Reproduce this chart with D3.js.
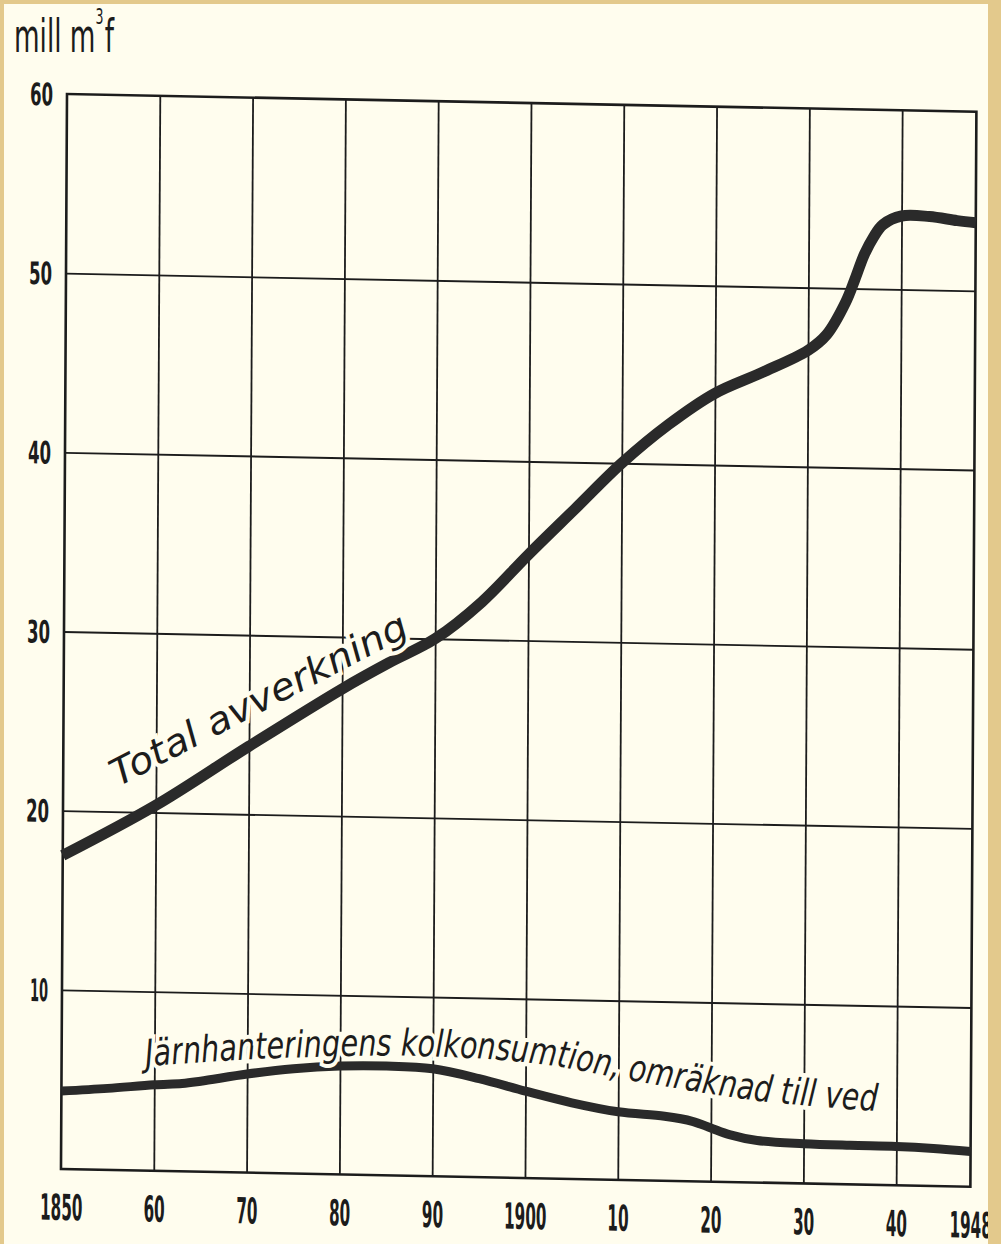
<!DOCTYPE html>
<html>
<head>
<meta charset="utf-8">
<script src="https://cdn.jsdelivr.net/npm/d3@7"></script>
<style>
  body { margin: 0; background: #e3c98c; }
  svg { display: block; }
</style>
</head>
<body>
<div id="chart"></div>
<script>
// decades with a grid line
var gridYears = [1850, 1860, 1870, 1880, 1890, 1900, 1910, 1920, 1930, 1940];

// x tick labels (last one sits at the right edge)
var xTickYears = [1850, 1860, 1870, 1880, 1890, 1900, 1910, 1920, 1930, 1940, 1948];
var xTickLabels = ["1850", "60", "70", "80", "90", "1900", "10", "20", "30", "40", "1948"];

// y ticks
var yTicks = [10, 20, 30, 40, 50, 60];
var yTickLabels = ["10", "20", "30", "40", "50", "60"];

// Total avverkning (mill m3f)
var totalYears = [1850, 1860, 1870, 1880, 1885, 1890, 1895, 1900, 1905, 1910, 1915, 1920, 1925, 1930, 1932, 1934, 1935, 1936, 1937, 1938, 1940, 1943, 1946, 1948];
var totalValues = [17.5, 20.4, 23.8, 27.1, 28.6, 30.0, 32.1, 34.8, 37.4, 40.0, 42.2, 44.0, 45.2, 46.5, 47.4, 49.2, 50.5, 51.9, 52.9, 53.6, 54.1, 54.1, 53.9, 53.8];

// Järnhanteringens kolkonsumtion, omräknad till ved (mill m3f)
var kolYears = [1850, 1855, 1860, 1863, 1865, 1870, 1875, 1880, 1885, 1890, 1895, 1900, 1905, 1910, 1915, 1918, 1920, 1922, 1925, 1930, 1935, 1940, 1944, 1948];
var kolValues = [4.35, 4.55, 4.8, 4.9, 5.05, 5.5, 5.85, 6.05, 6.1, 6.0, 5.5, 4.85, 4.25, 3.8, 3.6, 3.35, 3.0, 2.65, 2.35, 2.22, 2.18, 2.17, 2.1, 1.97];

var width = 1001;
var height = 1244;

// plot box (the scan is slightly skewed, so the plot group gets a matrix)
var plotW = 909.4;
var plotH = 1075;
var skew = "matrix(1,0.0195,-0.0056,1,67,94)";

var ink = "#1c1c1c";
var lineInk = "#2a2a2a";
var paper = "#fffdee";
var border = "#e3c98c";

var svg = d3
  .select("#chart")
  .append("svg")
  .attr("width", width)
  .attr("height", height);

// paper
svg.append("rect")
  .attr("x", 4)
  .attr("y", 4)
  .attr("width", 984)
  .attr("height", 1240)
  .attr("fill", paper);

var x_Scale = d3.scaleLinear().domain([1850, 1948]).range([0, plotW]);
var y_Scale = d3.scaleLinear().domain([0, 60]).range([plotH, 0]);

var plot = svg.append("g").attr("transform", skew);

// vertical grid
plot.append("g")
  .attr("transform", "translate(0," + plotH + ")")
  .call(d3.axisBottom(x_Scale).tickValues(gridYears.slice(1)).tickSize(-plotH).tickFormat(""))
  .call(function(g) { g.select(".domain").remove(); })
  .selectAll("line")
  .attr("stroke", ink)
  .attr("stroke-width", 1.8);

// horizontal grid
plot.append("g")
  .call(d3.axisLeft(y_Scale).tickValues(yTicks.slice(0, -1)).tickSize(-plotW).tickFormat(""))
  .call(function(g) { g.select(".domain").remove(); })
  .selectAll("line")
  .attr("stroke", ink)
  .attr("stroke-width", 1.9);

// frame
plot.append("rect")
  .attr("x", 0)
  .attr("y", 0)
  .attr("width", plotW)
  .attr("height", plotH)
  .attr("fill", "none")
  .attr("stroke", ink)
  .attr("stroke-width", 2.6);

// x labels
var xAxis = plot.append("g")
  .attr("transform", "translate(0," + plotH + ")")
  .call(d3.axisBottom(x_Scale).tickValues(xTickYears).tickSize(0)
    .tickFormat(function(d, i) { return xTickLabels[i]; }))
  .call(function(g) { g.select(".domain").remove(); });

xAxis.selectAll("text")
  .attr("y", 38)
  .attr("dy", "0.36em")
  .attr("fill", ink)
  .style("font-family", "'DejaVu Sans Condensed', 'DejaVu Sans', sans-serif")
  .style("font-weight", "bold")
  .style("font-size", "36px")
  .attr("textLength", function() { return this.textContent.length * 10.6; })
  .attr("lengthAdjust", "spacingAndGlyphs");

// y labels
var yAxis = plot.append("g")
  .call(d3.axisLeft(y_Scale).tickValues(yTicks).tickSize(0)
    .tickFormat(function(d, i) { return yTickLabels[i]; }))
  .call(function(g) { g.select(".domain").remove(); });

yAxis.selectAll("text")
  .attr("x", -14)
  .attr("dy", "0.36em")
  .attr("fill", ink)
  .style("font-family", "'DejaVu Sans Condensed', 'DejaVu Sans', sans-serif")
  .style("font-weight", "bold")
  .style("font-size", "31px")
  .attr("textLength", function() { return this.textContent.charAt(0) === "1" ? 18 : 23; })
  .attr("lengthAdjust", "spacingAndGlyphs");

// data lines
var line = d3.line()
  .x(function(d) { return x_Scale(d[0]); })
  .y(function(d) { return y_Scale(d[1]); })
  .curve(d3.curveCatmullRom.alpha(0.5));

plot.append("path")
  .datum(d3.zip(kolYears, kolValues))
  .attr("d", line)
  .attr("fill", "none")
  .attr("stroke", lineInk)
  .attr("stroke-width", 9);

plot.append("path")
  .datum(d3.zip(totalYears, totalValues))
  .attr("d", line)
  .attr("fill", "none")
  .attr("stroke", lineInk)
  .attr("stroke-width", 11);

// unit label
var unit = svg.append("text")
  .attr("x", 14)
  .attr("y", 52)
  .attr("fill", ink)
  .style("font-family", "'DejaVu Sans Condensed', 'DejaVu Sans', sans-serif")
  .style("font-size", "46px")
  .attr("textLength", 100)
  .attr("lengthAdjust", "spacingAndGlyphs");

unit.append("tspan").text("mill m");
unit.append("tspan").attr("dy", -28).style("font-size", "22px").text("3");
unit.append("tspan").attr("dy", 28).attr("dx", 2).text("f");

// annotations
svg.append("text")
  .attr("transform", "translate(118,787) rotate(-27.5)")
  .attr("fill", ink)
  .attr("stroke", paper)
  .attr("stroke-width", 8)
  .attr("paint-order", "stroke")
  .style("font-family", "'DejaVu Sans', sans-serif")
  .style("font-style", "italic")
  .style("font-size", "37px")
  .attr("textLength", 330)
  .attr("lengthAdjust", "spacingAndGlyphs")
  .text("Total avverkning");

var labelPath = [[146, 1066], [280, 1058], [420, 1056], [540, 1064], [640, 1082], [760, 1101], [890, 1112]];

svg.append("path")
  .attr("id", "kolPath")
  .attr("d", d3.line().curve(d3.curveCatmullRom)(labelPath))
  .attr("fill", "none");

svg.append("text")
  .attr("fill", ink)
  .attr("stroke", paper)
  .attr("stroke-width", 8)
  .attr("paint-order", "stroke")
  .style("font-family", "'DejaVu Sans Condensed', 'DejaVu Sans', sans-serif")
  .style("font-style", "italic")
  .style("font-size", "37px")
  .append("textPath")
  .attr("href", "#kolPath")
  .attr("textLength", 735)
  .attr("lengthAdjust", "spacingAndGlyphs")
  .text("Järnhanteringens kolkonsumtion, omräknad till ved");

// right border covers the cut-off last label
svg.append("rect")
  .attr("x", 988)
  .attr("y", 0)
  .attr("width", 13)
  .attr("height", height)
  .attr("fill", border);
</script>
</body>
</html>
